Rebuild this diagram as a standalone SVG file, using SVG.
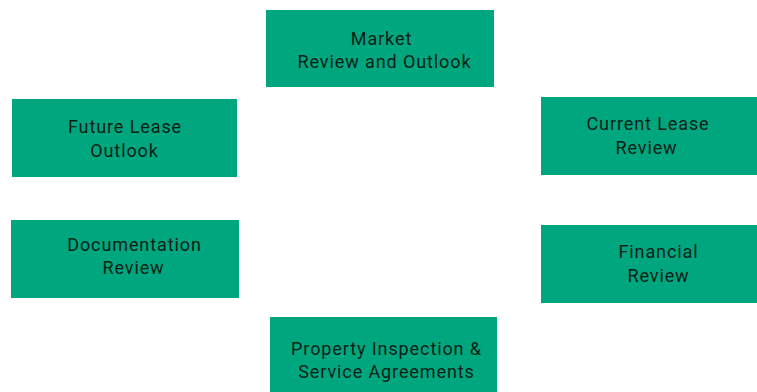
<svg xmlns="http://www.w3.org/2000/svg" width="757" height="392" viewBox="0 0 757 392">
<style>
.box{fill:#00A67E;}
.t{font-family:Roboto,"Liberation Sans",sans-serif;font-size:18px;letter-spacing:0.9px;fill:#0b1f17;text-anchor:middle;}
</style>
<rect width="757" height="392" fill="#ffffff"/>
<g id="connectors"></g>
<g id="market"><rect class="box" x="266" y="10" width="228" height="77"/>
<text class="t" x="381.5" y="45">Market</text><text class="t" x="384.5" y="68">Review and Outlook</text></g>
<g id="future"><rect class="box" x="12" y="99" width="225" height="78"/>
<text class="t" x="125" y="133">Future Lease</text><text class="t" x="124.5" y="157">Outlook</text></g>
<g id="current"><rect class="box" x="541" y="97" width="216" height="78"/>
<text class="t" x="648" y="130">Current Lease</text><text class="t" x="646.5" y="154">Review</text></g>
<g id="documentation"><rect class="box" x="11" y="220" width="228" height="78"/>
<text class="t" x="134.5" y="251">Documentation</text><text class="t" x="133.5" y="274">Review</text></g>
<g id="financial"><rect class="box" x="541" y="225" width="216" height="78"/>
<text class="t" x="658.5" y="258">Financial</text><text class="t" x="658.5" y="282">Review</text></g>
<g id="property"><rect class="box" x="270" y="317" width="227" height="75"/>
<text class="t" x="386.5" y="355">Property Inspection &amp;</text><text class="t" x="386.5" y="378">Service Agreements</text></g>
</svg>
